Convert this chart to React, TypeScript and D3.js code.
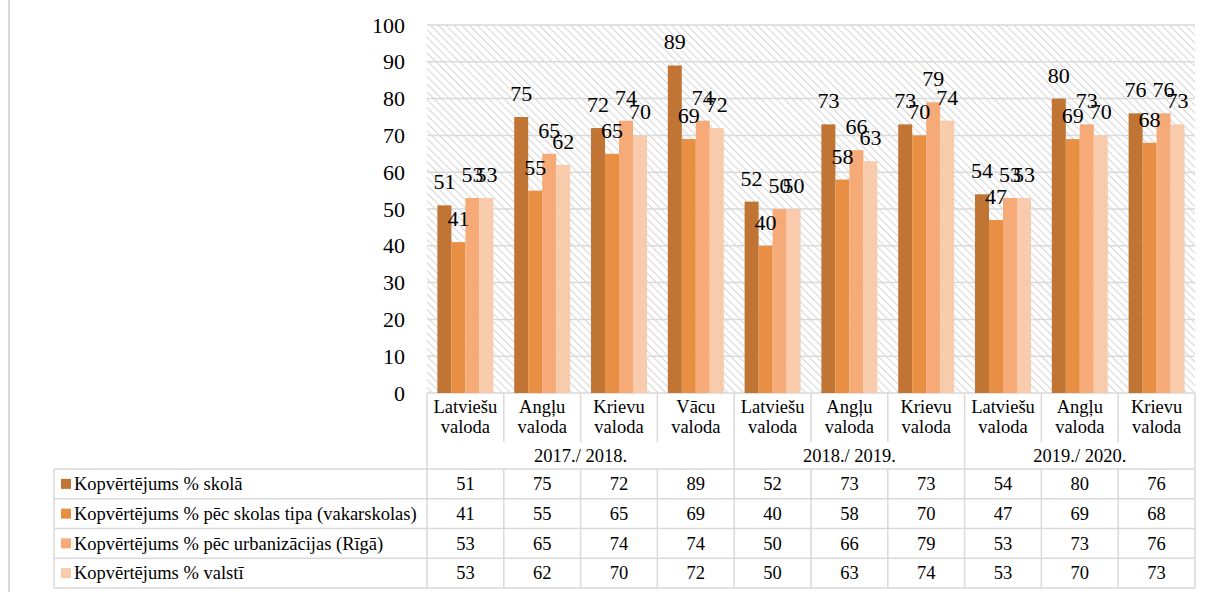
import React from "react"
import { scaleBand, scaleLinear, range } from "d3"

const categories = [
  ["Latviešu", "valoda"],
  ["Angļu", "valoda"],
  ["Krievu", "valoda"],
  ["Vācu", "valoda"],
  ["Latviešu", "valoda"],
  ["Angļu", "valoda"],
  ["Krievu", "valoda"],
  ["Latviešu", "valoda"],
  ["Angļu", "valoda"],
  ["Krievu", "valoda"],
]
const years = ["2017./ 2018.", "2018./ 2019.", "2019./ 2020."]
const yearSpans = [4, 3, 3]

const seriesNames = [
  "Kopvērtējums % skolā",
  "Kopvērtējums % pēc skolas tipa (vakarskolas)",
  "Kopvērtējums % pēc urbanizācijas (Rīgā)",
  "Kopvērtējums % valstī",
]
const skola = [51, 75, 72, 89, 52, 73, 73, 54, 80, 76]
const vakarskolas = [41, 55, 65, 69, 40, 58, 70, 47, 69, 68]
const riga = [53, 65, 74, 74, 50, 66, 79, 53, 73, 76]
const valsti = [53, 62, 70, 72, 50, 63, 74, 53, 70, 73]
const series = [skola, vakarskolas, riga, valsti]
const colors = ["#c07535", "#e88f43", "#f5aa78", "#f8cbad"]
const yTicks = [0, 10, 20, 30, 40, 50, 60, 70, 80, 90, 100]

const FONT = "Liberation Serif, Tinos, DejaVu Serif, Times New Roman, serif"
const GRID = "#d9d9d9"

export default function App() {
  const left = 427
  const right = 1195
  const top = 25
  const bottom = 393
  const legendLeft = 54
  const yearTop = 442
  const rowTop = 469
  const rowH = 29.75

  const x = scaleBand<number>().domain(range(categories.length)).range([left, right]).padding(0)
  const step = x.bandwidth()
  const inner = scaleBand<number>().domain(range(series.length)).range([10.4, step - 10.4]).padding(0)
  const y = scaleLinear().domain([0, 100]).range([bottom, top])

  // where each school year group starts
  const groupStarts: number[] = []
  let acc = 0
  yearSpans.forEach((s) => {
    groupStarts.push(acc)
    acc += s
  })

  const lines: JSX.Element[] = []
  for (let r = 0; r <= series.length; r++) {
    const yy = rowTop + r * rowH
    lines.push(<line key={"h" + r} x1={legendLeft} x2={right} y1={yy} y2={yy} stroke={GRID} strokeWidth={1.5} />)
  }
  lines.push(
    <line key="vleg" x1={legendLeft} x2={legendLeft} y1={rowTop} y2={rowTop + 4 * rowH} stroke={GRID} strokeWidth={1.5} />
  )
  for (let i = 0; i <= categories.length; i++) {
    const xx = i === categories.length ? right : x(i)!
    const full = i === categories.length || groupStarts.includes(i)
    if (full) {
      lines.push(<line key={"v" + i} x1={xx} x2={xx} y1={bottom} y2={rowTop + 4 * rowH} stroke={GRID} strokeWidth={1.5} />)
    } else {
      lines.push(<line key={"va" + i} x1={xx} x2={xx} y1={bottom} y2={yearTop} stroke={GRID} strokeWidth={1.5} />)
      lines.push(<line key={"vb" + i} x1={xx} x2={xx} y1={rowTop} y2={rowTop + 4 * rowH} stroke={GRID} strokeWidth={1.5} />)
    }
  }

  return (
    <div style={{ position: "absolute", left: 0, top: 0 }}>
      <svg width={1210} height={592} fontFamily={FONT} style={{ display: "block" }}>
        <defs>
          <pattern id="hatch" width={5.5} height={5.5} patternUnits="userSpaceOnUse" patternTransform="rotate(-45)">
            <rect width={5.5} height={5.5} fill="#ffffff" />
            <line x1={0} y1={0} x2={0} y2={5.5} stroke="#d4d4d4" strokeWidth={2} />
          </pattern>
        </defs>
        <rect width={1210} height={592} fill="#ffffff" />
        <line x1={9} x2={9} y1={0} y2={592} stroke={GRID} strokeWidth={2} />

        {/* plot area */}
        <rect x={left} y={top} width={right - left} height={bottom - top} fill="url(#hatch)" />
        {yTicks.map((t) => (
          <g key={t}>
            <line x1={left} x2={right} y1={y(t)} y2={y(t)} stroke={GRID} strokeWidth={1.5} />
            <text x={405} y={y(t) + 7.5} textAnchor="end" fontSize={22} fill="#000">
              {t}
            </text>
          </g>
        ))}

        {series.map((vals, s) => (
          <g key={s}>
            {vals.map((v, i) => (
              <rect
                key={i}
                x={x(i)! + inner(s)!}
                y={y(v)}
                width={inner.bandwidth()}
                height={bottom - y(v)}
                fill={colors[s]}
              />
            ))}
          </g>
        ))}
        {series.map((vals, s) => (
          <g key={"l" + s}>
            {vals.map((v, i) => (
              <text
                key={i}
                x={x(i)! + inner(s)! + inner.bandwidth() / 2}
                y={y(v) - 16}
                textAnchor="middle"
                fontSize={22}
                fill="#000"
              >
                {v}
              </text>
            ))}
          </g>
        ))}

        {/* data table */}
        {lines}
        {categories.map((c, i) => (
          <text key={i} x={x(i)! + step / 2} textAnchor="middle" fontSize={18.5} fill="#000">
            <tspan x={x(i)! + step / 2} y={413}>
              {c[0]}
            </tspan>
            <tspan x={x(i)! + step / 2} y={433}>
              {c[1]}
            </tspan>
          </text>
        ))}
        {years.map((yr, g) => {
          const x0 = x(groupStarts[g])!
          const x1 = x0 + yearSpans[g] * step
          return (
            <text key={yr} x={(x0 + x1) / 2} y={462} textAnchor="middle" fontSize={18.5} fill="#000">
              {yr}
            </text>
          )
        })}
        {series.map((vals, s) => {
          const ry = rowTop + s * rowH
          return (
            <g key={"row" + s}>
              <rect x={61} y={ry + rowH / 2 - 5} width={10} height={10} fill={colors[s]} />
              <text x={74} y={ry + 21} fontSize={18.5} fill="#000">
                {seriesNames[s]}
              </text>
              {vals.map((v, i) => (
                <text key={i} x={x(i)! + step / 2} y={ry + 21} textAnchor="middle" fontSize={18.5} fill="#000">
                  {v}
                </text>
              ))}
            </g>
          )
        })}
      </svg>
    </div>
  )
}
